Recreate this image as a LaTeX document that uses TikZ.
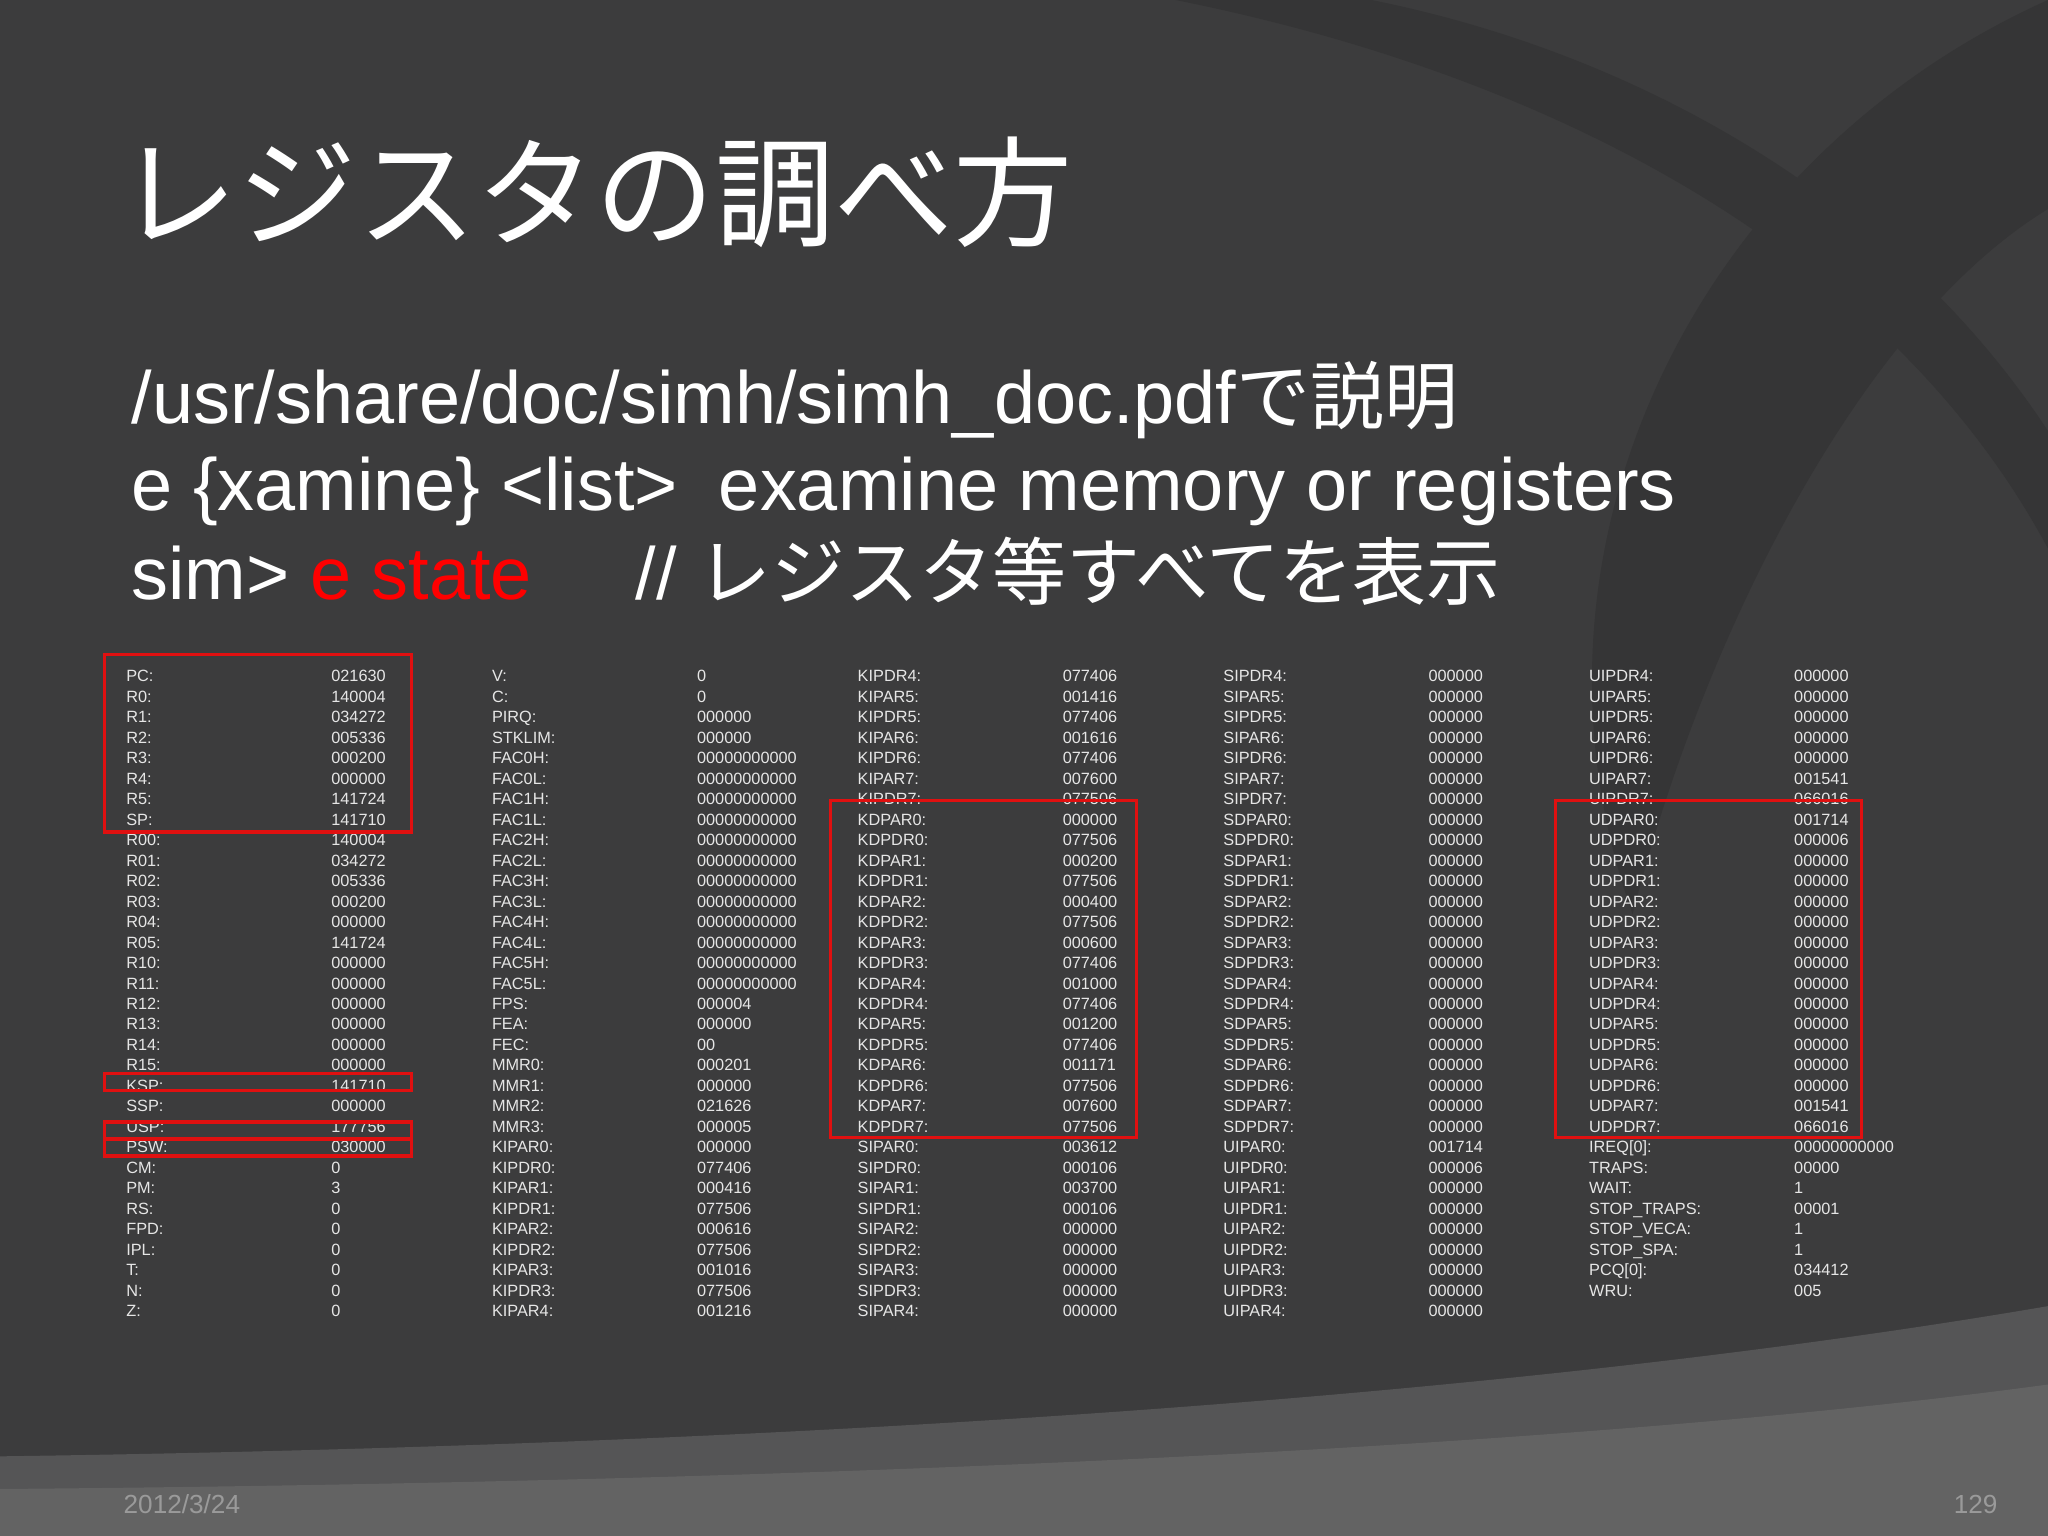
\documentclass[tikz,border=0pt]{standalone}
\usepackage{fontspec}
\setmainfont{Liberation Sans}
\newfontfamily\jp{Noto Sans CJK JP}
\definecolor{bg}{HTML}{3C3C3D}
\definecolor{bgdark}{HTML}{353536}
\definecolor{bglight}{HTML}{555556}
\definecolor{txt}{HTML}{E6E6E6}
\definecolor{foot}{HTML}{9A9A9A}
\definecolor{redbox}{HTML}{E01010}
\begin{document}
\begin{tikzpicture}[x=0.1mm,y=-0.1mm,
  cell/.style={anchor=base west,inner sep=0pt,font=\fontsize{3.55pt}{4pt}\selectfont,text=txt},
  big/.style={anchor=base west,inner sep=0pt,text=white,font=\fontsize{16.1pt}{19pt}\selectfont},
  rbox/.style={draw=redbox,line width=0.75pt}]
\useasboundingbox (0,0) rectangle (1568,1176);
\fill[bg] (0,0) rectangle (1568,1176);
% background swooshes
\fill[bgdark] (1568,0) .. controls (1300,120) and (1150,420) .. (1250,700) .. controls (1300,500) and (1420,250) .. (1568,160) -- cycle;
\fill[bgdark] (900,0) .. controls (1200,60) and (1450,200) .. (1568,420) -- (1568,330) .. controls (1450,150) and (1250,40) .. (1050,0) -- cycle;
\fill[bglight] (0,1115) .. controls (500,1108) and (1100,1080) .. (1568,1000) -- (1568,1176) -- (0,1176) -- cycle;
\fill[bglight!92!white] (0,1140) .. controls (600,1135) and (1200,1110) .. (1568,1060) -- (1568,1176) -- (0,1176) -- cycle;
% title
\node[anchor=base west,inner sep=0pt,text=white,font=\jp\fontsize{26pt}{30pt}\selectfont] (title) at (90,182) {レジスタの調べ方};
\node[big] (l1) at (100,324) {/usr/share/doc/simh/simh\_doc.pdf{\jp で説明}};
\node[big] (l2) at (100,391) {e \{xamine\} <list>\ \ examine memory or registers};
\node[big] (l3) at (100,459) {sim> \textcolor{red}{e state}};
\node[big] (l3b) at (486,459) {// {\jp レジスタ等すべてを表示}};
% table
\def\rowy#1{522+15.68*(#1-1)}
\foreach \a/\b [count=\i] in {PC:/021630,R0:/140004,R1:/034272,R2:/005336,R3:/000200,R4:/000000,R5:/141724,SP:/141710,R00:/140004,R01:/034272,R02:/005336,R03:/000200,R04:/000000,R05:/141724,R10:/000000,R11:/000000,R12:/000000,R13:/000000,R14:/000000,R15:/000000,KSP:/141710,SSP:/000000,USP:/177756,PSW:/030000,CM:/0,PM:/3,RS:/0,FPD:/0,IPL:/0,T:/0,N:/0,Z:/0}{
  \node[cell] (a\i) at (96,{\rowy{\i}}) {\a};
  \node[cell] (av\i) at (253,{\rowy{\i}}) {\b};}
\foreach \a/\b [count=\i] in {V:/0,C:/0,PIRQ:/000000,STKLIM:/000000,FAC0H:/00000000000,FAC0L:/00000000000,FAC1H:/00000000000,FAC1L:/00000000000,FAC2H:/00000000000,FAC2L:/00000000000,FAC3H:/00000000000,FAC3L:/00000000000,FAC4H:/00000000000,FAC4L:/00000000000,FAC5H:/00000000000,FAC5L:/00000000000,FPS:/000004,FEA:/000000,FEC:/00,MMR0:/000201,MMR1:/000000,MMR2:/021626,MMR3:/000005,KIPAR0:/000000,KIPDR0:/077406,KIPAR1:/000416,KIPDR1:/077506,KIPAR2:/000616,KIPDR2:/077506,KIPAR3:/001016,KIPDR3:/077506,KIPAR4:/001216}{
  \node[cell] (b\i) at (376,{\rowy{\i}}) {\a};
  \node[cell] (bv\i) at (533,{\rowy{\i}}) {\b};}
\foreach \a/\b [count=\i] in {KIPDR4:/077406,KIPAR5:/001416,KIPDR5:/077406,KIPAR6:/001616,KIPDR6:/077406,KIPAR7:/007600,KIPDR7:/077506,KDPAR0:/000000,KDPDR0:/077506,KDPAR1:/000200,KDPDR1:/077506,KDPAR2:/000400,KDPDR2:/077506,KDPAR3:/000600,KDPDR3:/077406,KDPAR4:/001000,KDPDR4:/077406,KDPAR5:/001200,KDPDR5:/077406,KDPAR6:/001171,KDPDR6:/077506,KDPAR7:/007600,KDPDR7:/077506,SIPAR0:/003612,SIPDR0:/000106,SIPAR1:/003700,SIPDR1:/000106,SIPAR2:/000000,SIPDR2:/000000,SIPAR3:/000000,SIPDR3:/000000,SIPAR4:/000000}{
  \node[cell] (c\i) at (656,{\rowy{\i}}) {\a};
  \node[cell] (cv\i) at (813,{\rowy{\i}}) {\b};}
\foreach \a/\b [count=\i] in {SIPDR4:/000000,SIPAR5:/000000,SIPDR5:/000000,SIPAR6:/000000,SIPDR6:/000000,SIPAR7:/000000,SIPDR7:/000000,SDPAR0:/000000,SDPDR0:/000000,SDPAR1:/000000,SDPDR1:/000000,SDPAR2:/000000,SDPDR2:/000000,SDPAR3:/000000,SDPDR3:/000000,SDPAR4:/000000,SDPDR4:/000000,SDPAR5:/000000,SDPDR5:/000000,SDPAR6:/000000,SDPDR6:/000000,SDPAR7:/000000,SDPDR7:/000000,UIPAR0:/001714,UIPDR0:/000006,UIPAR1:/000000,UIPDR1:/000000,UIPAR2:/000000,UIPDR2:/000000,UIPAR3:/000000,UIPDR3:/000000,UIPAR4:/000000}{
  \node[cell] (d\i) at (936,{\rowy{\i}}) {\a};
  \node[cell] (dv\i) at (1093,{\rowy{\i}}) {\b};}
\foreach \a/\b [count=\i] in {UIPDR4:/000000,UIPAR5:/000000,UIPDR5:/000000,UIPAR6:/000000,UIPDR6:/000000,UIPAR7:/001541,UIPDR7:/066016,UDPAR0:/001714,UDPDR0:/000006,UDPAR1:/000000,UDPDR1:/000000,UDPAR2:/000000,UDPDR2:/000000,UDPAR3:/000000,UDPDR3:/000000,UDPAR4:/000000,UDPDR4:/000000,UDPAR5:/000000,UDPDR5:/000000,UDPAR6:/000000,UDPDR6:/000000,UDPAR7:/001541,UDPDR7:/066016,IREQ[0]:/00000000000,TRAPS:/00000,WAIT:/1,STOP\_TRAPS:/00001,STOP\_VECA:/1,STOP\_SPA:/1,PCQ[0]:/034412,WRU:/005}{
  \node[cell] (e\i) at (1216,{\rowy{\i}}) {\a};
  \node[cell] (ev\i) at (1373,{\rowy{\i}}) {\b};}
% red boxes
\draw[rbox] (80,501) rectangle (315,637);
\draw[rbox] (80,822) rectangle (315,835);
\draw[rbox] (80,859) rectangle (315,885);
\draw[rbox] (80,872) -- (315,872);
\draw[rbox] (636,613) rectangle (870,871);
\draw[rbox] (1191,613) rectangle (1425,871);
% footer
\node[anchor=base west,inner sep=0pt,text=foot,font=\fontsize{5.7pt}{7pt}\selectfont] (date) at (94,1159) {2012/3/24};
\node[anchor=base east,inner sep=0pt,text=foot,font=\fontsize{5.7pt}{7pt}\selectfont] (page) at (1530,1159) {129};
\end{tikzpicture}
\end{document}
